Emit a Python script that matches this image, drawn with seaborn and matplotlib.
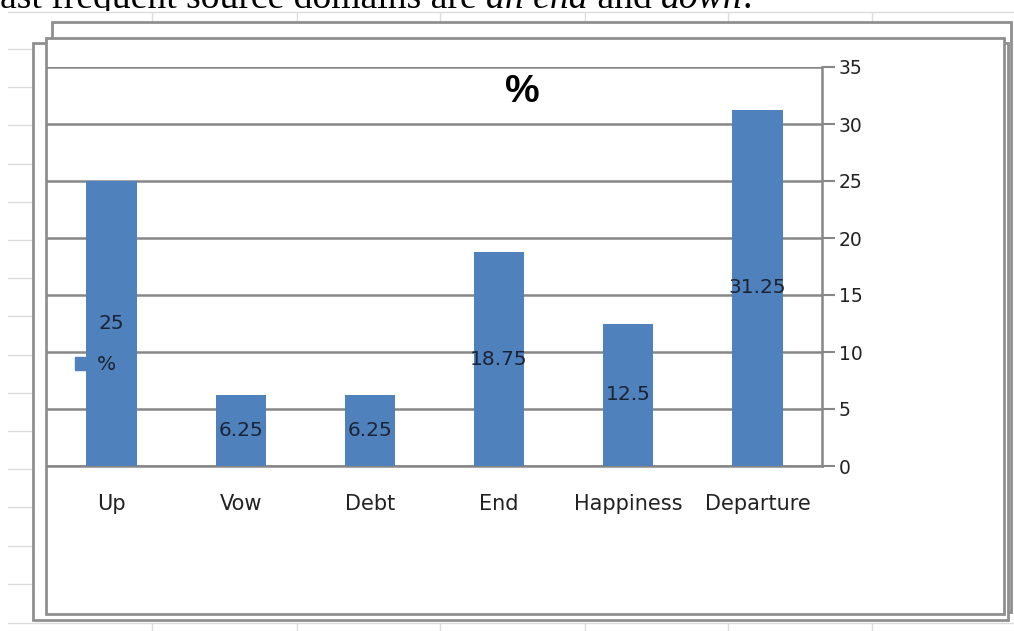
import matplotlib
matplotlib.use("Agg")
import matplotlib.pyplot as plt
import seaborn as sns
import pandas as pd
from matplotlib.patches import Rectangle, Patch
from matplotlib.lines import Line2D

categories = ["Up", "Vow", "Debt", "End", "Happiness", "Departure"]
values = [25, 6.25, 6.25, 18.75, 12.5, 31.25]
series_name = "%"
y_ticks = [0, 5, 10, 15, 20, 25, 30, 35]

W, H = 1014, 631
BAR = "#4F81BD"
GRID = "#878787"
FRAME = "#8f8f8f"
CELL = "#dcdcdc"
TXT = "#222222"

sns.set_theme(style="white")
plt.rcParams['font.family'] = ['DejaVu Sans']

fig = plt.figure(figsize=(W / 100, H / 100), dpi=100)
fig.patch.set_facecolor("white")

def fx(px):
    return px / W

def fy(py):
    return 1 - py / H

def fline(x0, y0, x1, y1, color, lw, z):
    fig.add_artist(Line2D([fx(x0), fx(x1)], [fy(y0), fy(y1)], color=color, lw=lw,
                          transform=fig.transFigure, zorder=z))

def frect(x0, y0, x1, y1, z, lw=2.0, edge=FRAME):
    fig.add_artist(Rectangle((fx(x0), fy(y1)), fx(x1) - fx(x0), fy(y0) - fy(y1),
                             facecolor="white", edgecolor=edge, lw=lw,
                             transform=fig.transFigure, zorder=z))

# top page text (only its middle band shows, as in the screenshot)
frags = [("le", "normal"), ("ast frequent source domains are ", "normal"), ("an end", "italic"),
         (" and ", "normal"), ("down", "italic"), (".", "normal")]
texts = []
for s, st in frags:
    t = fig.text(0, fy(7.5), s, fontsize=20, family="Liberation Serif", style=st,
                 ha="left", va="baseline", color="black", zorder=-12)
    texts.append(t)
fig.canvas.draw()
r = fig.canvas.get_renderer()
widths = [t.get_window_extent(r).width for t in texts]
scale = 752 / sum(widths[1:])
for t in texts:
    t.set_fontsize(20 * scale)
fig.canvas.draw()
widths = [t.get_window_extent(r).width for t in texts]
x = -widths[0]
for t, w in zip(texts, widths):
    t.set_x(fx(x))
    x += w

# the pasted spreadsheet picture covers the lower part of the text
frect(-5, 11, W + 5, H + 5, -11, lw=0, edge="none")

# spreadsheet cell lines in the background
fline(8, 12, W, 12, CELL, 1.0, -10)
fline(8, 623, W, 623, CELL, 1.0, -10)
for xv in [152, 297, 440, 585, 728, 872]:
    fline(xv, 12, xv, 24, CELL, 1.0, -10)
    fline(xv, 623, xv, H, CELL, 1.0, -10)
yy = 49.0
while yy < 620:
    fline(8, yy, 34, yy, CELL, 1.0, -10)
    yy += 38.2

# stacked chart frames
frect(52, 22, 1011, 612, -8)
frect(33, 43, 1008, 620, -7)
frect(46, 38, 1004, 614, -6)

# plot area
ax = fig.add_axes([fx(47), fy(466), fx(822) - fx(47), fy(67) - fy(466)])
ax.set_zorder(1)
ax.patch.set_alpha(0)
df = pd.DataFrame({"category": categories, "value": values})
sns.barplot(data=df, x="category", y="value", color=BAR, width=0.39,
            saturation=1, ax=ax, zorder=3, linewidth=0)
ax.set_xlim(-0.5, len(categories) - 0.5)
ax.set_ylim(0, 35)
ax.set_yticks(y_ticks)
ax.yaxis.tick_right()
ax.yaxis.grid(True, color=GRID, lw=1.8)
ax.set_axisbelow(True)
ax.set_xlabel("")
ax.set_ylabel("")
for s in ["left", "top"]:
    ax.spines[s].set_visible(False)
for s in ["right", "bottom"]:
    ax.spines[s].set_color(GRID)
    ax.spines[s].set_linewidth(1.8)
ax.tick_params(axis="y", which="major", direction="out", length=9, width=1.5,
               color=GRID, labelsize=13.5, labelcolor=TXT, pad=3, right=True, left=False)
ax.tick_params(axis="x", which="major", length=0, labelsize=15, labelcolor=TXT, pad=20)
ax.set_xticks([i - 0.5 for i in range(len(categories) + 1)], minor=True)
ax.tick_params(axis="x", which="minor", direction="out", length=6, width=1.5, color=GRID)

for c in ax.containers:
    ax.bar_label(c, labels=[f"{v:g}" for v in values], label_type="center",
                 fontsize=14.5, color="#1c2333", padding=0)

# legend (overlapping the first bar, as in the original)
leg = ax.legend(handles=[Patch(facecolor=BAR, edgecolor=BAR, label=series_name)],
                loc="center left", bbox_to_anchor=(fx(75), fy(365)),
                bbox_transform=fig.transFigure, frameon=False, fontsize=14.5,
                handlelength=0.65, handleheight=0.65, handletextpad=0.45,
                borderpad=0, borderaxespad=0, labelcolor="#1c2333")

fig.text(fx(522), fy(92), series_name, fontsize=28, weight="bold",
         family="Liberation Sans", ha="center", va="center", color="black")

fig.savefig("out.png", dpi=100, facecolor="white")
